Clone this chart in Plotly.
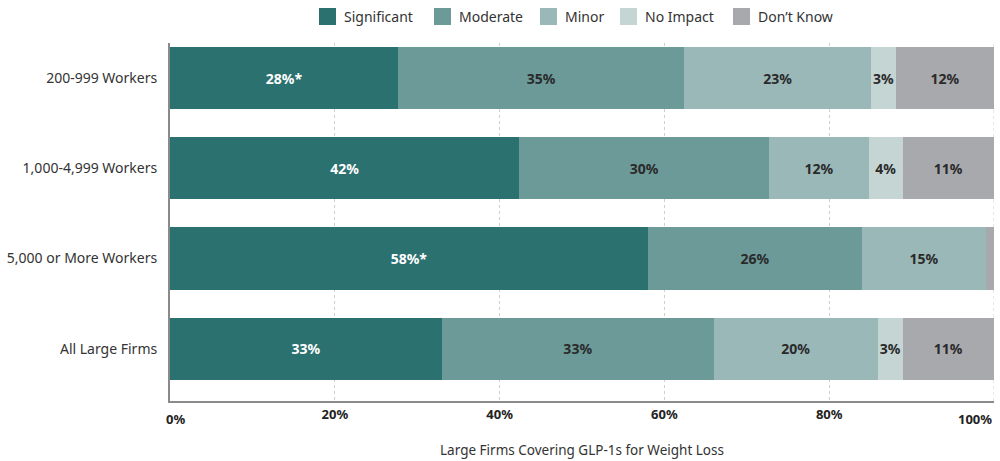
import plotly.graph_objects as go

categories = ["200-999 Workers", "1,000-4,999 Workers", "5,000 or More Workers", "All Large Firms"]
series_names = ["Significant", "Moderate", "Minor", "No Impact", "Don’t Know"]
significant = [27.7, 42.4, 58.0, 33.0]
moderate = [34.7, 30.3, 26.0, 33.0]
minor = [22.7, 12.1, 15.0, 19.9]
no_impact = [3.0, 4.1, 0.0, 3.0]
dont_know = [11.9, 11.1, 1.0, 11.1]
significant_labels = ["28%*", "42%", "58%*", "33%"]
moderate_labels = ["35%", "30%", "26%", "33%"]
minor_labels = ["23%", "12%", "15%", "20%"]
no_impact_labels = ["3%", "4%", "", "3%"]
dont_know_labels = ["12%", "11%", "", "11%"]
x_ticks = [20, 40, 60, 80]
x_tick_labels = ["20%", "40%", "60%", "80%"]

colors = ["#2b7170", "#6b9a98", "#9ab8b8", "#c4d5d4", "#a8a9ad"]
text_colors = ["#ffffff", "#2a2a2a", "#2a2a2a", "#2a2a2a", "#2a2a2a"]
values = [significant, moderate, minor, no_impact, dont_know]
labels = [significant_labels, moderate_labels, minor_labels, no_impact_labels, dont_know_labels]

FONT = "Noto Sans"
L, R, T, B, W, H = 170, 6, 43, 60, 1000, 461
PW, PH = W - L - R, H - T - B

def px_x(px):
    return (px - L) / PW

def px_y(py):
    return (H - B - py) / PH

fig = go.Figure()
for name, vals, labs, col, tcol in zip(series_names, values, labels, colors, text_colors):
    fig.add_trace(go.Bar(
        y=categories, x=vals, name=name, orientation="h",
        marker=dict(color=col, line=dict(width=0)),
        text=labs, textposition="inside", insidetextanchor="middle", textangle=0,
        insidetextfont=dict(color=tcol, size=14, family=FONT, weight="bold"),
        hoverinfo="skip", showlegend=False,
    ))

fig.update_layout(
    barmode="stack",
    bargap=0.31,
    width=W, height=H,
    margin=dict(l=L, r=R, t=T, b=B),
    paper_bgcolor="white", plot_bgcolor="white",
    font=dict(family=FONT, color="#333333", size=13),
    uniformtext=dict(minsize=14, mode="show"),
    xaxis=dict(range=[0, 100], tickvals=x_ticks, ticktext=x_tick_labels,
               showgrid=True, gridcolor="#cfcfcf", griddash="dot", gridwidth=1,
               showline=True, linecolor="#8a8a8a", linewidth=2,
               zeroline=False, ticks="",
               tickfont=dict(size=13, color="#222222", weight="bold"),
               title=dict(text="Large Firms Covering GLP-1s for Weight Loss",
                          font=dict(size=13.5, color="#333333"), standoff=24)),
    yaxis=dict(categoryorder="array", categoryarray=categories,
               range=[3.58, -0.39], showline=True, linecolor="#8a8a8a", linewidth=2,
               showgrid=False, ticks="", ticklabelstandoff=8,
               tickfont=dict(size=14, color="#333333")),
)

# edge tick labels placed inside the plot width
fig.add_annotation(x=0, y=0, xref="x", yref="paper", yshift=-7, text="0%", showarrow=False,
                   xanchor="left", yanchor="top", xshift=-6,
                   font=dict(size=13, color="#222222", weight="bold"))
fig.add_annotation(x=100, y=0, xref="x", yref="paper", yshift=-7, text="100%", showarrow=False,
                   xanchor="right", yanchor="top",
                   font=dict(size=13, color="#222222", weight="bold"))
# gridline at 100%
fig.add_shape(type="line", x0=100, x1=100, y0=0, y1=1, xref="x", yref="paper",
              line=dict(color="#cfcfcf", width=1, dash="dot"), layer="below")

# manual legend (large square swatches)
legend_swatch_px = [319, 434, 540, 620, 733]
for name, col, sx in zip(series_names, colors, legend_swatch_px):
    fig.add_shape(type="rect", xref="paper", yref="paper",
                  x0=px_x(sx), x1=px_x(sx + 17), y0=px_y(25), y1=px_y(8),
                  fillcolor=col, line=dict(width=0))
    fig.add_annotation(x=px_x(sx + 23), y=px_y(16.5), xref="paper", yref="paper",
                       text=name, showarrow=False, xanchor="left", yanchor="middle",
                       font=dict(size=14, color="#333333"))

fig.write_html("out.html")
